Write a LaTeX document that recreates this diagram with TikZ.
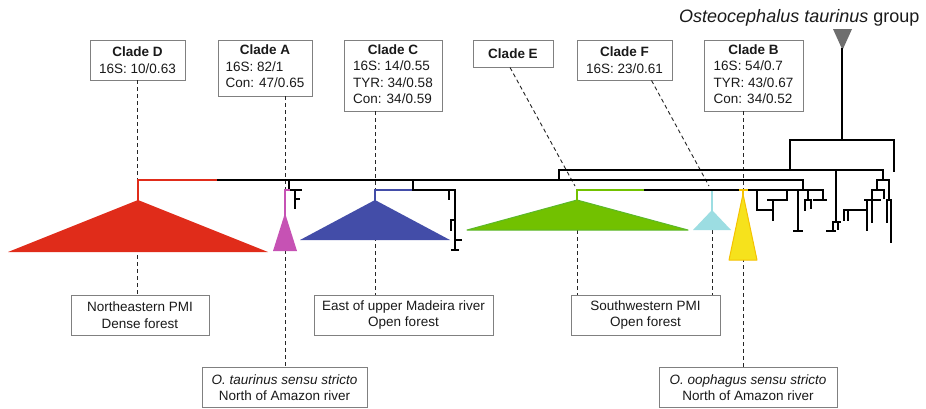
\documentclass[tikz,border=0pt]{standalone}
\usepackage{fontspec}
\setmainfont{Liberation Sans}
\usetikzlibrary{calc}

\definecolor{cladeD}{HTML}{E02C1A}
\definecolor{cladeA}{HTML}{C652B4}
\definecolor{cladeC}{HTML}{434DA8}
\definecolor{cladeE}{HTML}{72C100}
\definecolor{cladeEedge}{HTML}{5CB82A}
\definecolor{cladeF}{HTML}{9CDDE2}
\definecolor{cladeB}{HTML}{F6E21C}
\definecolor{cladeBedge}{HTML}{F5C200}
\definecolor{boxline}{HTML}{808080}
\definecolor{txt}{HTML}{1A1A1A}
\definecolor{grouptri}{HTML}{6E6E6E}

\tikzset{
  infobox/.style={draw=boxline, line width=0.9pt, fill=white, text=txt,
    inner sep=0pt, align=center, font=\fontsize{13.5}{16.5}\selectfont},
  branch/.style={line width=1.9pt, line cap=rect, line join=miter},
  guide/.style={line width=0.9pt, dash pattern=on 4pt off 3pt, black!85},
  triedge/.style={line width=1pt, line join=round},
}

\newcommand{\cladeinfo}[2]{\begin{tabular}{@{}l@{}}\multicolumn{1}{@{}c@{}}{\textbf{#1}}\\#2\end{tabular}}

\begin{document}
\begin{tikzpicture}[x=1pt, y=-1pt]
\fill[white] (0,0) rectangle (926,408);
\useasboundingbox (0,0) rectangle (926,408);

% ---- points on the tree where the guide lines meet the clades
\coordinate (mD) at (138,180);
\coordinate (mA) at (285,190);
\coordinate (mC) at (375,190);
\coordinate (mE) at (575,186);
\coordinate (mEb) at (577,230);
\coordinate (mF) at (709,186);
\coordinate (mFb) at (712,230);
\coordinate (mB) at (743,190);

% ---- group label
\node[anchor=base west, inner sep=0pt, text=txt, font=\fontsize{18}{22}\selectfont]
  (grp) at (679,22) {\textit{Osteocephalus taurinus} group};

% ---- clade boxes (top row)
\node[infobox, minimum width=95, minimum height=40] (D) at (137.5,60)
  {\textbf{Clade D}\\16S: 10/0.63};
\node[infobox, minimum width=94, minimum height=56] (A) at (265,68)
  {\cladeinfo{Clade A}{16S: 82/1\\Con: 47/0.65}};
\node[infobox, minimum width=98, minimum height=71] (C) at (393,75.5)
  {\cladeinfo{Clade C}{16S: 14/0.55\\TYR: 34/0.58\\Con: 34/0.59}};
\node[infobox, minimum width=80, minimum height=27] (E) at (513,53.5)
  {\textbf{Clade E}};
\node[infobox, minimum width=95, minimum height=40] (F) at (624.5,60)
  {\textbf{Clade F}\\16S: 23/0.61};
\node[infobox, minimum width=99, minimum height=71] (B) at (753.5,75.5)
  {\cladeinfo{Clade B}{16S: 54/0.7\\TYR: 43/0.67\\Con: 34/0.52}};

% ---- distribution boxes (bottom rows)
\node[infobox, minimum width=138, minimum height=40] (NE) at (140,315)
  {Northeastern PMI\\Dense forest};
\node[infobox, minimum width=179, minimum height=40] (MAD) at (403.5,315)
  {East of upper Madeira river\\Open forest};
\node[infobox, minimum width=149, minimum height=40] (SW) at (645.5,315)
  {Southwestern PMI\\Open forest};
\node[infobox, minimum width=165, minimum height=40] (TAU) at (284.5,387.5)
  {\textit{O. taurinus sensu stricto}\\North of Amazon river};
\node[infobox, minimum width=178, minimum height=40] (OOP) at (748,387.5)
  {\textit{O. oophagus sensu stricto}\\North of Amazon river};

% ---- guide lines from boxes to clades
\draw[guide] (D.south) -- (D.south |- NE.north);
\draw[guide] (A.south -| mA) -- (mA |- TAU.north);
\draw[guide] (C.south -| mC) -- (mC |- MAD.north);
\draw[guide] ([xshift=-3pt]E.south) -- (mE);
\draw[guide] (mEb) -- (mEb |- SW.north);
\draw[guide] ([xshift=27pt]F.south) -- (mF);
\draw[guide] (mFb) -- (mFb |- SW.north);
\draw[guide] (B.south -| mB) -- (mB |- OOP.north);

% ---- root and upper backbone
\fill[grouptri] (833,29) -- (852,29) -- (842.5,50) -- cycle;
\draw[branch] (842,49) -- (842,140);
\draw[branch] (790,170) -- (790,140) -- (894,140) -- (894,171);
\draw[branch] (559,180) -- (559,170) -- (883,170) -- (883,180);
\draw[branch] (216,180) -- (803,180) -- (803,190);
\draw[branch] (643,190) -- (823,190);

% ---- Clade D (red)
\fill[cladeD] (138,200) -- (268,252) -- (8,252) -- cycle;
\draw[branch, cladeD] (138,201) -- (138,180) -- (216,180);

% ---- Clade A (magenta) and its sister tips
\draw[branch] (289,180) -- (289,190) -- (301,190);
\draw[branch] (295,190) -- (295,208);
\draw[branch] (295,199) -- (299,199);
\fill[cladeA] (285,213) -- (297,251) -- (273,251) -- cycle;
\draw[branch, cladeA] (289,190) -- (285,190) -- (285,216);

% ---- Clade C (blue) and its sister tips
\fill[cladeC] (375,200) -- (450,240) -- (300,240) -- cycle;
\draw[branch, cladeC] (413,190) -- (375,190) -- (375,201);
\draw[branch] (413,180) -- (413,190) -- (455,190) -- (455,250);
\draw[branch] (449,190) -- (449,199);
\draw[branch] (455,220) -- (451,220) -- (451,230);
\draw[branch] (455,240) -- (461,240);
\draw[branch] (452,250) -- (458,250);

% ---- Clade E (green)
\filldraw[fill=cladeE, draw=cladeEedge, triedge] (577,200) -- (688,230) -- (467,230) -- cycle;
\draw[branch, cladeE] (643,190) -- (577,190) -- (577,200);

% ---- Clade F (light blue)
\fill[cladeF] (712,210) -- (731,230) -- (693,230) -- cycle;
\draw[branch, cladeF] (712,191.5) -- (712,211);

% ---- Clade B (yellow)
\filldraw[fill=cladeB, draw=cladeBedge, triedge] (743,194) -- (757,260) -- (729,260) -- cycle;
\draw[branch, cladeBedge] (740,190) -- (747,190);
\draw[branch, cladeBedge] (743,190) -- (743,195);

% ---- small tips hanging from the lower bar
\draw[branch] (757,190) -- (757,210) -- (773,210);
\draw[branch] (773,200) -- (773,220);
\draw[branch] (768,200) -- (787,200) -- (787,190);
\draw[branch] (798,190) -- (798,230);
\draw[branch] (794,231) -- (802,231);
\draw[branch] (808,190) -- (808,200);
\draw[branch] (805,200) -- (811,200);
\draw[branch] (805,200) -- (805,210);
\draw[branch] (811,200) -- (811,208);
\draw[branch] (823,190) -- (823,200);
\draw[branch] (814,200) -- (826,200);

% ---- tips on the right-hand side
\draw[branch] (836,170) -- (836,222);
\draw[branch] (833,222) -- (840,222);
\draw[branch] (833,222) -- (833,231);
\draw[branch] (838,222) -- (838,229);
\draw[branch] (827,231) -- (835,231);
\draw[branch] (877,190) -- (877,180) -- (889,180) -- (889,200);
\draw[branch] (872,222) -- (872,190) -- (884,190) -- (884,198);
\draw[branch] (865,200) -- (880,200);
\draw[branch] (867,200) -- (867,230);
\draw[branch] (844,210) -- (867,210);
\draw[branch] (844,210) -- (844,220);
\draw[branch] (848,210) -- (848,220);
\draw[branch] (887,200) -- (891,200);
\draw[branch] (887,200) -- (887,222);
\draw[branch] (891,200) -- (891,242);
\end{tikzpicture}
\end{document}
